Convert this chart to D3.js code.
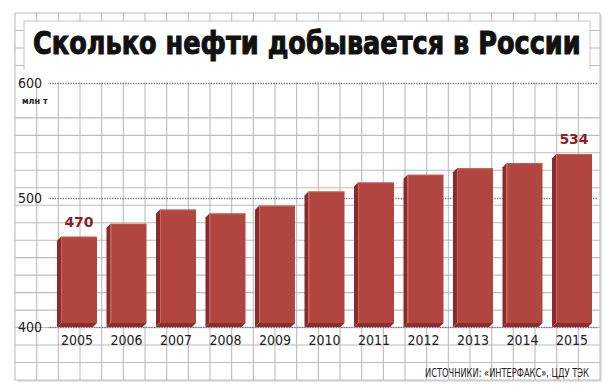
<!DOCTYPE html>
<html>
<head>
<meta charset="utf-8">
<script src="https://cdn.jsdelivr.net/npm/d3@7"></script>
<style>
  html, body { margin: 0; padding: 0; background: #fff; }
  svg { display: block; }
</style>
</head>
<body>
<svg id="chart" width="612" height="392"></svg>
<script>
// ---- data ----
const titleText = "Сколько нефти добывается в России";
const unitText = "млн т";
const sourceText = "ИСТОЧНИКИ: «ИНТЕРФАКС», ЦДУ ТЭК";
const years = ["2005","2006","2007","2008","2009","2010","2011","2012","2013","2014","2015"];
const production = [470, 480, 491, 488, 494, 505, 512, 518, 523, 527, 534];
const labeledYears = ["2005", "2015"];
const yTicks = [400, 500, 600];

// ---- layout ----
const svg = d3.select("#chart");
const frame = {x0: 15, y0: 13, x1: 600, y1: 380};
const base = 327;
const narrow = "'Liberation Sans Narrow', 'DejaVu Sans Condensed', sans-serif";

// bar scale
const y = d3.scaleLinear().domain([400, 500]).range([327, 198]);
// tick scale: the original puts the 600 line off-scale, above the tallest bar
const yTickScale = d3.scaleLinear().domain([400, 550, 600]).range([y(400), y(550), 83]);
const x = d3.scaleBand().domain(years).range([47.1, 601.9]).paddingInner(0.192).paddingOuter(0.2);
const depth = 4;

// fit a text horizontally to a width by scaling it
function fitText(sel, x0, y0, width, anchorEnd) {
  const w = sel.node().getComputedTextLength();
  const s = width / w;
  const tx = anchorEnd ? x0 - width : x0;
  sel.attr("x", 0).attr("y", 0).attr("text-anchor", "start")
     .attr("transform", `translate(${tx},${y0}) scale(${s},1)`);
}

// shadow + frame
svg.append("rect").attr("x", frame.x0 + 2).attr("y", frame.y0 + 2)
  .attr("width", frame.x1 - frame.x0).attr("height", frame.y1 - frame.y0)
  .attr("fill", "#e4e4e4");
svg.append("rect").attr("x", frame.x0).attr("y", frame.y0)
  .attr("width", frame.x1 - frame.x0).attr("height", frame.y1 - frame.y0)
  .attr("fill", "#fff");

// grid
const g = svg.append("g").attr("stroke", "#bcbcbc").attr("stroke-width", 1.1);
const nV = 27, nH = 21;
d3.range(nV + 1).forEach(i => {
  const xx = frame.x0 + (frame.x1 - frame.x0) * i / nV;
  g.append("line").attr("x1", xx).attr("x2", xx).attr("y1", frame.y0).attr("y2", frame.y1);
});
d3.range(nH + 1).forEach(i => {
  if (i === 4 || i === 5) return;
  const yy = frame.y0 + (frame.y1 - frame.y0) * i / nH;
  g.append("line").attr("x1", frame.x0).attr("x2", frame.x1).attr("y1", yy).attr("y2", yy);
});

// title panel
svg.append("rect").attr("x", 24).attr("y", 21).attr("width", 566).attr("height", 56)
  .attr("fill", "#fff").attr("stroke", "#c4c4c4").attr("stroke-width", 1);
svg.append("rect").attr("x", 23).attr("y", 70).attr("width", 568).attr("height", 12).attr("fill", "#fff");

const title = svg.append("text")
  .attr("font-family", narrow)
  .attr("font-weight", "bold").attr("font-size", 32)
  .attr("fill", "#111").attr("stroke", "#111").attr("stroke-width", 1)
  .text(titleText);
fitText(title, 33, 54, 548, false);

// y axis with dotted reference lines
const yAxis = d3.axisLeft(yTickScale).tickValues(yTicks).tickSize(549).tickPadding(6).tickFormat(d3.format("d"));
const ya = svg.append("g").attr("transform", "translate(597,0)").call(yAxis);
ya.select(".domain").remove();
ya.selectAll(".tick line").attr("stroke", "#777").attr("stroke-width", 1.3).attr("stroke-dasharray", "1.3,1.3");
ya.selectAll(".tick text")
  .attr("font-family", narrow)
  .attr("font-size", 14).attr("fill", "#222");

svg.append("text").attr("x", 22).attr("y", 104)
  .attr("font-family", "'DejaVu Sans Condensed', sans-serif")
  .attr("font-size", 9).attr("font-weight", "bold").attr("fill", "#222")
  .text(unitText);

// bars
const data = years.map((yr, i) => ({year: yr, value: production[i]}));
const bars = svg.append("g").selectAll("g").data(data).join("g");
bars.each(function(d) {
  const sel = d3.select(this);
  const L = x(d.year), R = L + x.bandwidth();
  const top = y(d.value);
  sel.append("polygon")
    .attr("points", [[L, top + depth], [L + depth, top], [L + depth, base - depth], [L, base]].join(" "))
    .attr("fill", "#8a2a2c");
  sel.append("polygon")
    .attr("points", [[L, base], [L + depth, base - depth], [R, base - depth], [R - depth, base]].join(" "))
    .attr("fill", "#8e2c2d");
  sel.append("rect")
    .attr("x", L + depth).attr("y", top)
    .attr("width", R - L - depth).attr("height", base - depth - top)
    .attr("fill", "#b0463f");
  sel.append("line")
    .attr("x1", L + depth + 0.5).attr("x2", L + depth + 0.5)
    .attr("y1", top).attr("y2", base - depth)
    .attr("stroke", "#c8675f").attr("stroke-width", 1);
  sel.append("line")
    .attr("x1", L + depth).attr("x2", R)
    .attr("y1", top + 0.5).attr("y2", top + 0.5)
    .attr("stroke", "#c05a52").attr("stroke-width", 1);
});

// value labels
svg.append("g").selectAll("text")
  .data(data.filter(d => labeledYears.includes(d.year)))
  .join("text")
  .attr("x", d => x(d.year) + depth + (x.bandwidth() - depth) / 2)
  .attr("y", d => y(d.value) - 10)
  .attr("text-anchor", "middle")
  .attr("font-family", "'DejaVu Sans', sans-serif")
  .attr("font-weight", "bold").attr("font-size", 14)
  .attr("fill", "#8a1f27")
  .text(d => d.value);

// x axis labels
const xAxis = d3.axisBottom(x).tickSize(0).tickPadding(0);
const xa = svg.append("g").attr("transform", "translate(0,335)").call(xAxis);
xa.select(".domain").remove();
xa.selectAll(".tick text")
  .attr("dy", "0.71em")
  .attr("font-family", narrow)
  .attr("font-size", 14).attr("fill", "#222");

// source
const src = svg.append("text")
  .attr("font-family", narrow)
  .attr("font-size", 11.5).attr("fill", "#222")
  .text(sourceText);
fitText(src, 589, 377, 164, true);
</script>
</body>
</html>
